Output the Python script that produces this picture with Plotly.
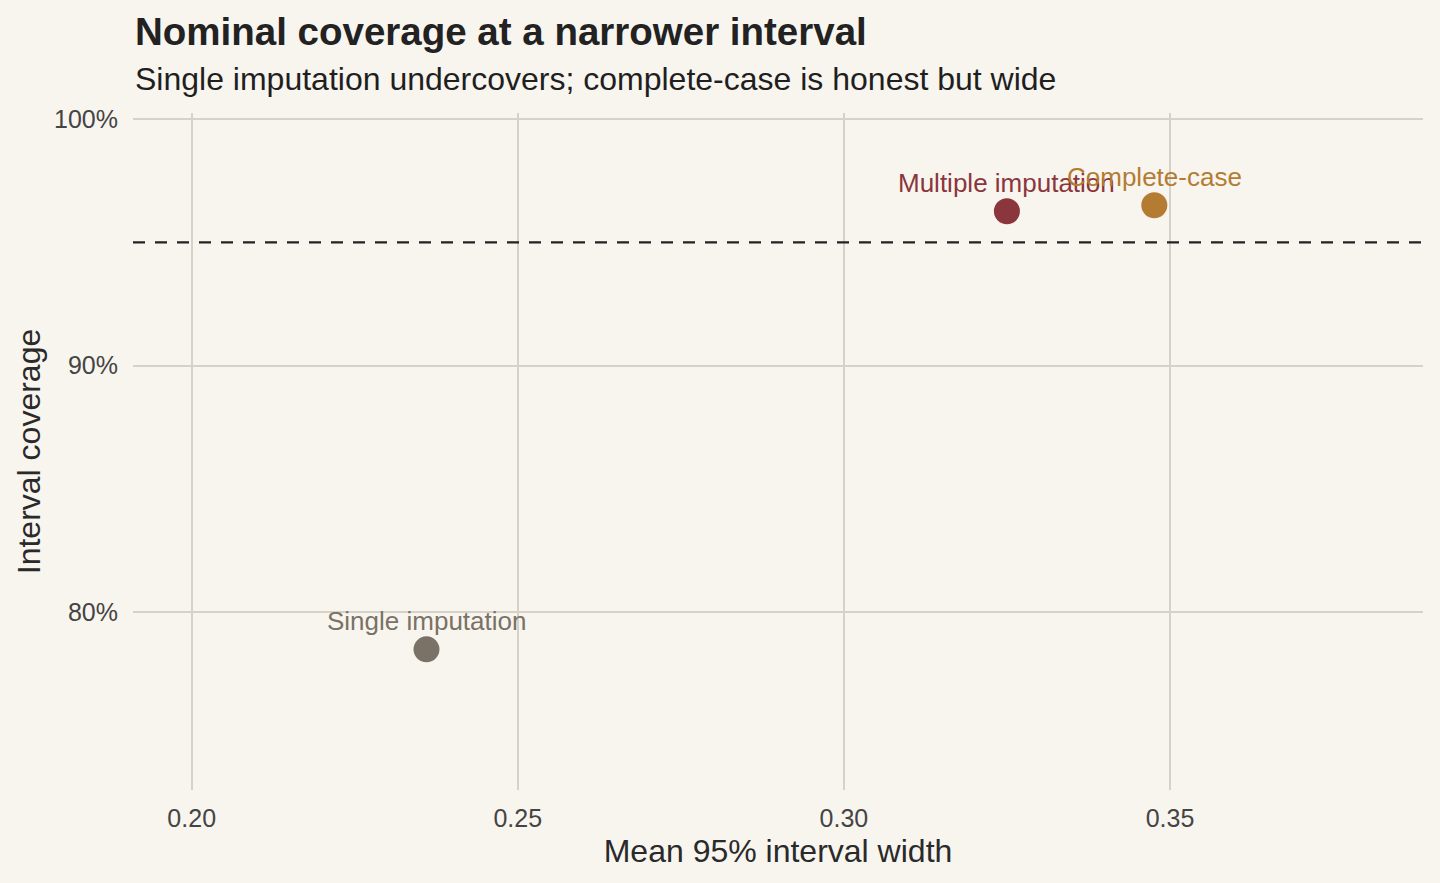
import plotly.graph_objects as go

methods = ["Single imputation", "Multiple imputation", "Complete-case"]
interval_width = [0.2360, 0.3250, 0.3476]
coverage = [0.7850, 0.9626, 0.9650]
colors = ["#7A7266", "#8B363C", "#B47C32"]
nominal = 0.95

x_ticks = [0.20, 0.25, 0.30, 0.35]
x_tick_labels = ["0.20", "0.25", "0.30", "0.35"]
y_ticks = [0.80, 0.90, 1.00]
y_tick_labels = ["80%", "90%", "100%"]

BG = "#F8F5EF"
GRID = "#D6D2C8"
FONT = "Liberation Sans, Arial, Helvetica, sans-serif"

fig = go.Figure()

fig.add_shape(type="line", xref="paper", x0=0, x1=1, yref="y", y0=nominal, y1=nominal,
              line=dict(color="#222222", width=2.2, dash="12px,10px"), layer="above")

fig.add_trace(go.Scatter(
    x=interval_width, y=coverage, mode="markers",
    marker=dict(size=26, color=colors, line=dict(width=0)),
    hoverinfo="skip", showlegend=False,
))

for m, xv, yv, c in zip(methods, interval_width, coverage, colors):
    fig.add_annotation(x=xv, y=yv, xref="x", yref="y", text=m, showarrow=False,
                       yanchor="middle", xanchor="center", yshift=28,
                       font=dict(family=FONT, size=26, color=c))

fig.add_annotation(xref="paper", yref="paper", x=0, y=1, xanchor="left", yanchor="middle",
                   yshift=82, text="<b>Nominal coverage at a narrower interval</b>",
                   showarrow=False, font=dict(family=FONT, size=38.5, color="#222222"))
fig.add_annotation(xref="paper", yref="paper", x=0, y=1, xanchor="left", yanchor="middle",
                   yshift=34, text="Single imputation undercovers; complete-case is honest but wide",
                   showarrow=False, font=dict(family=FONT, size=32, color="#1F1F1F"))

fig.update_layout(
    width=1440, height=883,
    margin=dict(l=133, r=17, t=113, b=93),
    paper_bgcolor=BG, plot_bgcolor=BG,
    font=dict(family=FONT, color="#333333"),
    xaxis=dict(range=[0.1910, 0.3888], tickvals=x_ticks, ticktext=x_tick_labels,
               showgrid=True, gridcolor=GRID, gridwidth=1.5, zeroline=False, showline=False,
               ticks="", ticklabelstandoff=11,
               tickfont=dict(family=FONT, size=25, color="#444444"),
               title=dict(text="Mean 95% interval width", standoff=8,
                          font=dict(family=FONT, size=32, color="#2A2A2A"))),
    yaxis=dict(range=[0.7280, 1.0024], tickvals=y_ticks, ticktext=y_tick_labels,
               showgrid=True, gridcolor=GRID, gridwidth=1.5, zeroline=False, showline=False,
               ticks="", ticklabelstandoff=14,
               tickfont=dict(family=FONT, size=25, color="#444444"),
               title=dict(text="Interval coverage", standoff=3,
                          font=dict(family=FONT, size=32, color="#2A2A2A"))),
)

fig.write_html("out.html")
